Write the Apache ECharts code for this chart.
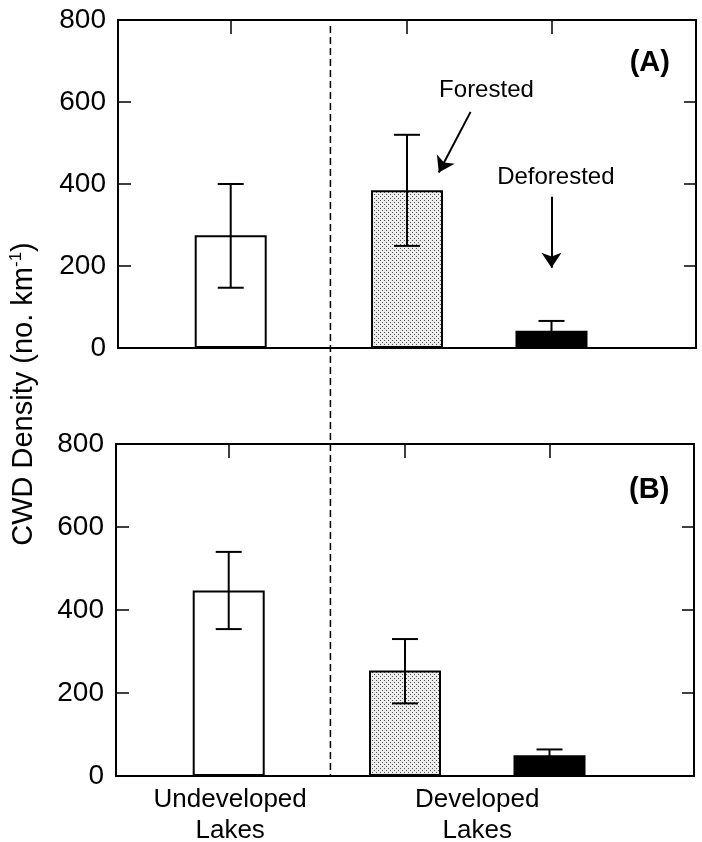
<!DOCTYPE html>
<html>
<head>
<meta charset="utf-8">
<script src="https://cdn.jsdelivr.net/npm/echarts@6/dist/echarts.min.js"></script>
<style>
  html, body { margin: 0; padding: 0; background: #fff; }
  #chart { width: 702px; height: 842px; }
</style>
</head>
<body>
<div id="chart"></div>
<script>
const FONT = "'Liberation Sans', Arial, Helvetica, sans-serif";

// x positions of the three groups (value axis 0..4)
const X_POS = [0.78, 2, 3];
const GROUP_LABELS = ["Undeveloped\nLakes", "Developed\nLakes"];
const GROUP_LABEL_POS = [0.79, 2.5];
const DIVIDER_X = 1.47;

// panel A
const A_MEAN = [275, 385, 42];
const A_LOW = [147, 249, 18];
const A_HIGH = [400, 520, 66];

// panel B
const B_MEAN = [447, 254, 50];
const B_LOW = [354, 175, 36];
const B_HIGH = [540, 330, 64];

// dotted fill for the forested bars
const dots = document.createElement("canvas");
dots.width = 4;
dots.height = 4;
const dctx = dots.getContext("2d");
dctx.fillStyle = "#ececec";
dctx.fillRect(0, 0, 4, 4);
dctx.fillStyle = "#555";
dctx.fillRect(0, 0, 1, 1);
dctx.fillRect(2, 2, 1, 1);

const fills = ["#fff", { image: dots, repeat: "repeat" }, "#000"];

const chart = echarts.init(document.getElementById("chart"));

function barData(means) {
  return means.map((v, i) => ({
    value: [X_POS[i], v],
    itemStyle: { color: fills[i], borderColor: "#000", borderWidth: 2 },
  }));
}

function errData(low, high) {
  return X_POS.map((x, i) => [x, low[i], high[i]]);
}

function renderErr(params, api) {
  const x = api.value(0);
  const lo = api.coord([x, api.value(1)]);
  const hi = api.coord([x, api.value(2)]);
  const half = 13;
  const style = { stroke: "#000", lineWidth: 2 };
  return {
    type: "group",
    children: [
      { type: "line", shape: { x1: lo[0], y1: lo[1], x2: hi[0], y2: hi[1] }, style },
      { type: "line", shape: { x1: hi[0] - half, y1: hi[1], x2: hi[0] + half, y2: hi[1] }, style },
      { type: "line", shape: { x1: lo[0] - half, y1: lo[1], x2: lo[0] + half, y2: lo[1] }, style },
    ],
  };
}

const axisLine = { show: true, onZero: false, lineStyle: { color: "#000", width: 2 } };

function yAxes(gi) {
  return [
    {
      type: "value", gridIndex: gi, min: 0, max: 800, interval: 200,
      axisLine, splitLine: { show: false },
      axisTick: { show: true, inside: true, length: 13, lineStyle: { color: "#000", width: 1.5 } },
      axisLabel: { color: "#000", fontSize: 28, fontFamily: FONT, margin: 12 },
    },
    {
      type: "value", gridIndex: gi, position: "right", min: 0, max: 800, interval: 200,
      axisLine, splitLine: { show: false },
      axisTick: { show: true, inside: true, length: 12, lineStyle: { color: "#000", width: 1.5 } },
      axisLabel: { show: false },
    },
  ];
}

function xAxes(gi, withLabels) {
  return [
    {
      type: "value", gridIndex: gi, min: 0, max: 4, position: "bottom",
      axisLine, splitLine: { show: false }, axisTick: { show: false },
      axisLabel: withLabels
        ? {
            show: true, customValues: GROUP_LABEL_POS, color: "#000", fontSize: 26,
            lineHeight: 31, fontFamily: FONT, margin: 8,
            formatter: (v) => {
              const i = GROUP_LABEL_POS.findIndex((p) => Math.abs(p - v) < 0.01);
              return i >= 0 ? GROUP_LABELS[i] : "";
            },
          }
        : { show: false },
    },
    {
      type: "value", gridIndex: gi, min: 0, max: 4, position: "top",
      axisLine, splitLine: { show: false },
      axisTick: { show: true, inside: true, length: 14, customValues: X_POS, lineStyle: { color: "#000", width: 1.5 } },
      axisLabel: { show: false },
    },
  ];
}

const textLabel = (txt, size, bold) => ({
  show: true, position: "inside", formatter: txt, color: "#000",
  fontSize: size, fontWeight: bold ? "bold" : "normal", fontFamily: FONT,
});

chart.setOption({
  animation: false,
  backgroundColor: "#fff",
  grid: [
    { left: 118, right: 6, top: 20, height: 328, outerBoundsMode: "none" },
    { left: 116, right: 8, top: 444, height: 332, outerBoundsMode: "none" },
  ],
  xAxis: [...xAxes(0, false), ...xAxes(1, true)],
  yAxis: [...yAxes(0), ...yAxes(1)],
  series: [
    {
      type: "bar", xAxisIndex: 0, yAxisIndex: 0, barWidth: 72,
      data: barData(A_MEAN),
      markPoint: {
        symbol: "circle", symbolSize: 0, silent: true,
        data: [
          { coord: [2.55, 629], label: textLabel("Forested", 24) },
          { coord: [3.03, 417], label: textLabel("Deforested", 24) },
          { coord: [3.68, 695], label: textLabel("(A)", 29, true) },
        ],
      },
      markLine: {
        silent: true, symbol: ["none", "arrow"], symbolSize: 15,
        label: { show: false },
        lineStyle: { color: "#000", width: 2, type: "solid" },
        data: [
          [{ coord: [2.44, 576] }, { coord: [2.22, 428] }],
          [{ coord: [3.0, 369] }, { coord: [3.0, 196] }],
        ],
      },
    },
    {
      type: "custom", xAxisIndex: 0, yAxisIndex: 0,
      renderItem: renderErr, data: errData(A_LOW, A_HIGH), z: 5,
    },
    {
      type: "bar", xAxisIndex: 2, yAxisIndex: 2, barWidth: 72,
      data: barData(B_MEAN),
      markPoint: {
        symbol: "circle", symbolSize: 0, silent: true,
        data: [{ coord: [3.69, 689], label: textLabel("(B)", 29, true) }],
      },
    },
    {
      type: "custom", xAxisIndex: 2, yAxisIndex: 2,
      renderItem: renderErr, data: errData(B_LOW, B_HIGH), z: 5,
    },
  ],
});

// dashed divider running through both panels
const pTop = chart.convertToPixel({ gridIndex: 0 }, [DIVIDER_X, 800]);
const pBot = chart.convertToPixel({ gridIndex: 1 }, [DIVIDER_X, 0]);
const midY = (chart.convertToPixel({ gridIndex: 0 }, [0, 0])[1] +
  chart.convertToPixel({ gridIndex: 1 }, [0, 800])[1]) / 2;

chart.setOption({
  graphic: [
    {
      type: "line", z: 10,
      shape: { x1: pTop[0], y1: pTop[1] + 6, x2: pTop[0], y2: pBot[1] },
      style: { stroke: "#000", lineWidth: 1.5, lineDash: [7, 4] },
    },
    {
      type: "text", x: 24, y: midY - 2, rotation: Math.PI / 2,
      style: {
        text: "{a|CWD Density (no. km}{s|-1}{a|)}",
        align: "center", verticalAlign: "middle", fill: "#000",
        rich: {
          a: { fontSize: 29, fontFamily: FONT, lineHeight: 32, fill: "#000" },
          s: { fontSize: 17, fontFamily: FONT, lineHeight: 32, verticalAlign: "top", fill: "#000" },
        },
      },
    },
  ],
});
</script>
</body>
</html>
